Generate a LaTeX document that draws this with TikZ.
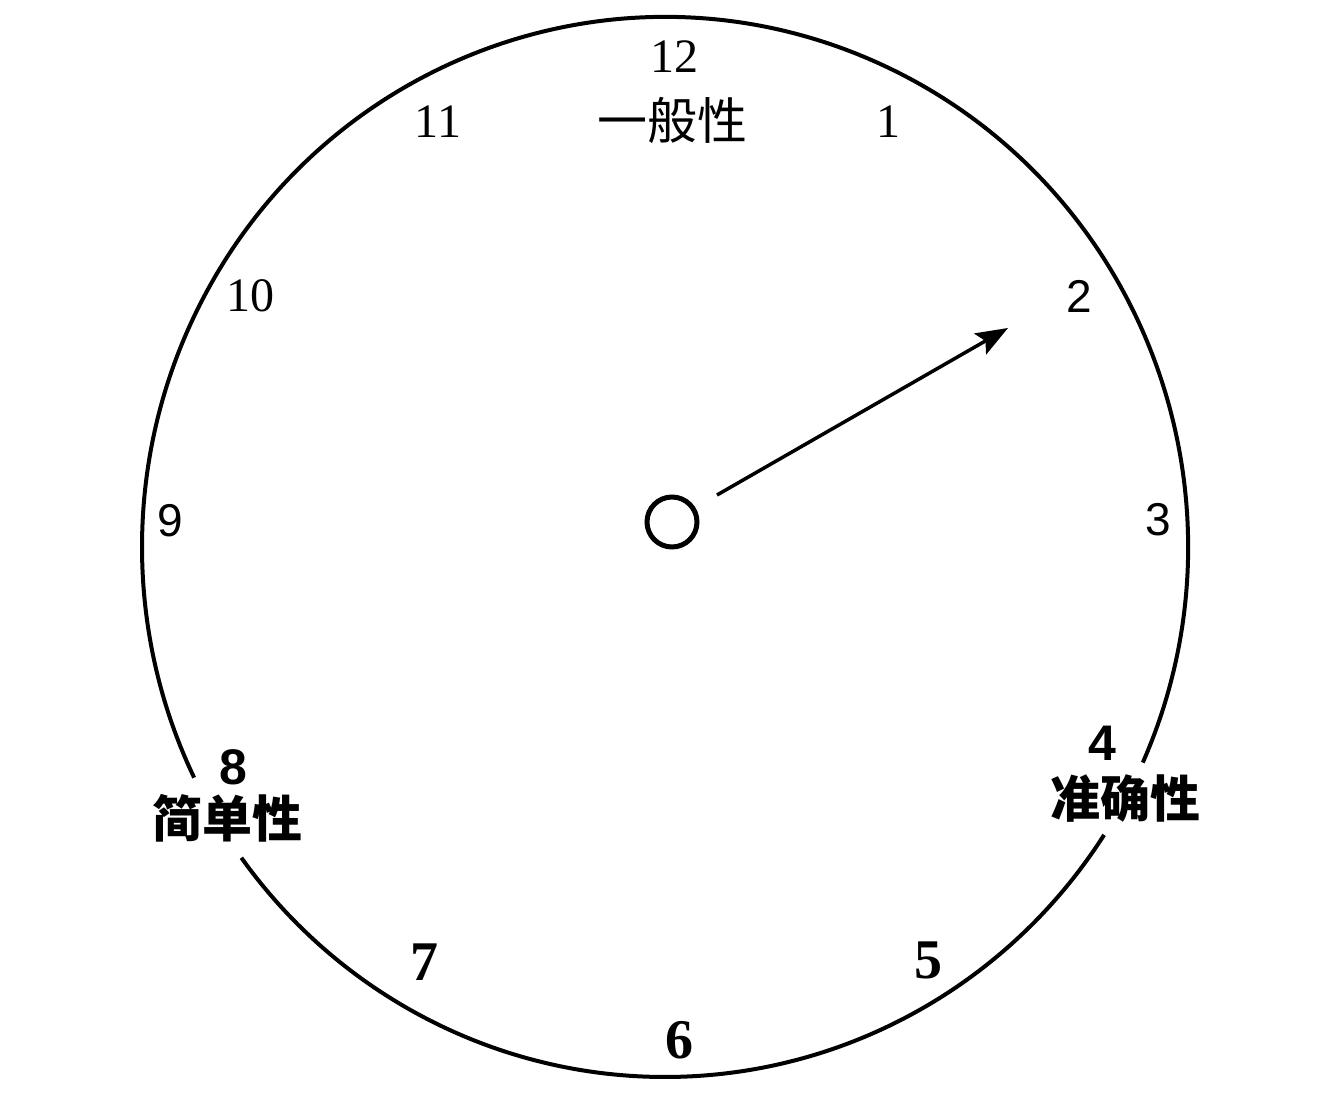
\documentclass[tikz,border=0pt]{standalone}
\usepackage{fontspec}
\setmainfont{Liberation Serif}
\newfontfamily\sansdig{Liberation Sans}
\newfontfamily\cjk{Noto Sans CJK SC}
\usetikzlibrary{arrows.meta}
\begin{document}
\begin{tikzpicture}[x=1pt,y=1pt,
  rim/.style={line width=4pt},
  num/.style={inner sep=0pt, font=\fontsize{48pt}{48pt}\selectfont},
  numsans/.style={inner sep=0pt, font=\sansdig\fontsize{46pt}{46pt}\selectfont},
  numbold/.style={inner sep=0pt, font=\bfseries\fontsize{56pt}{56pt}\selectfont},
  numsansbold/.style={inner sep=0pt, font=\sansdig\bfseries\fontsize{50pt}{50pt}\selectfont},
  cjklabel/.style={inner sep=0pt, font=\cjk\fontsize{50pt}{50pt}\selectfont},
  cjkbold/.style={inner sep=0pt, font=\cjk\bfseries\fontsize{50pt}{50pt}\selectfont},
  hubstyle/.style={circle, draw, line width=5pt, minimum size=50pt, inner sep=0pt},
  hand/.style={line width=3.5pt, -{Stealth[length=32pt,width=24pt,inset=6pt]}}
]
\useasboundingbox (0,0) rectangle (1322,1096);
\fill[white] (0,0) rectangle (1322,1096);
\coordinate (c) at (665,549);
% clock rim, with two gaps
\draw[rim] ([shift={(-24:523pt and 530pt)}]c) arc[start angle=-24, end angle=205.8, x radius=523pt, y radius=530pt];
\draw[rim] ([shift={(215.9:523pt and 530pt)}]c) arc[start angle=215.9, end angle=327.1, x radius=523pt, y radius=530pt];
% numbers
\node[num] (n12) at (674,1039) {12};
\node[cjklabel] (general) at (672,975) {一般性};
\node[num] (n11) at (438,974) {11};
\node[num] (n1) at (888,974) {1};
\node[num] (n10) at (250,800) {10};
\node[numsans] (n2) at (1079,800) {2};
\node[numsans] (n9) at (170,575) {9};
\node[numsans] (n3) at (1158,576) {3};
\node[numsansbold] (n8) at (233,329) {8};
\node[cjkbold] (simple) at (227,278) {简单性};
\node[numsansbold] (n4) at (1102,353) {4};
\node[cjkbold] (accurate) at (1125,297) {准确性};
\node[numbold] (n7) at (424,134) {7};
\node[numbold] (n6) at (679,56) {6};
\node[numbold] (n5) at (928,136) {5};
% hub and hand
\node[hubstyle] (hub) at (672,574) {};
\coordinate (tail) at (717,601);
\coordinate (head) at (1008,768);
\draw[hand] (tail) -- (head);
\end{tikzpicture}
\end{document}
